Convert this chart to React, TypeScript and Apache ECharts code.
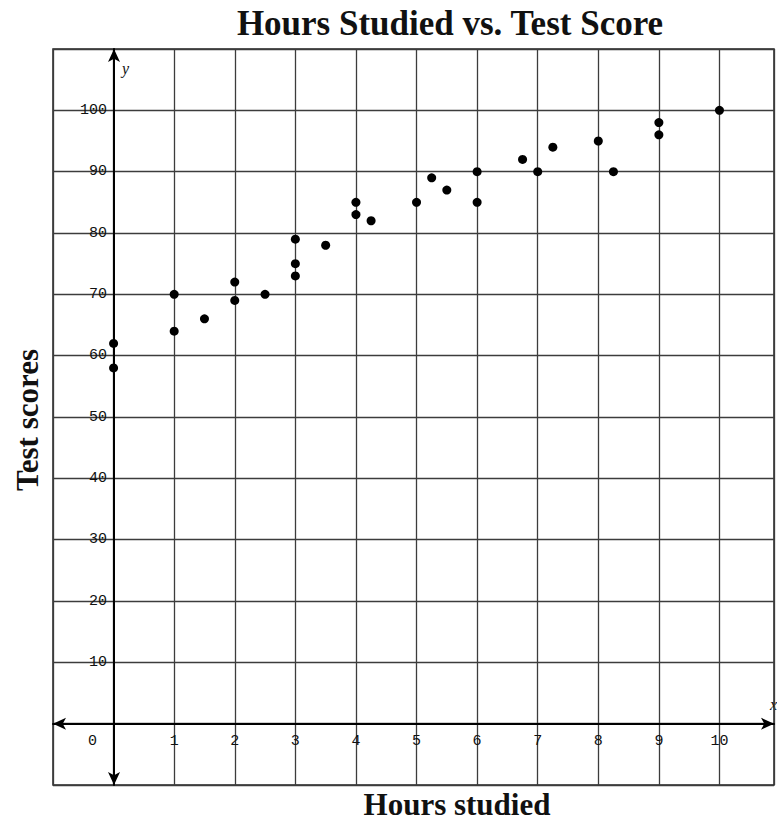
import React, { useEffect, useRef } from "react";
import * as echarts from "echarts";

const hoursStudied = [0, 0, 1, 1, 1.5, 2, 2, 2.5, 3, 3, 3, 3.5, 4, 4, 4.25, 5, 5.25, 5.5, 6, 6, 6.75, 7, 7.25, 8, 8.25, 9, 9, 10];
const testScores = [62, 58, 64, 70, 66, 72, 69, 70, 79, 75, 73, 78, 85, 83, 82, 85, 89, 87, 90, 85, 92, 90, 94, 95, 90, 98, 96, 100];

const chartTitle = "Hours Studied vs. Test Score";
const xName = "Hours studied";
const yName = "Test scores";

const xMin = -1;
const xMax = 10.9;
const yMin = -10;
const yMax = 110;

const W = 777;
const H = 820;
const gridLeft = 53;
const gridRight = -2;
const gridTop = 49;
const gridBottom = 35;

export default function App() {
  const ref = useRef<HTMLDivElement>(null);
  useEffect(() => {
    if (!ref.current) return;
    const chart = echarts.init(ref.current, undefined, { renderer: "svg" });
    const points = hoursStudied.map((h, i) => [h, testScores[i]]);
    const gridW = W - gridLeft - gridRight;
    const gridH = H - gridTop - gridBottom;
    // place the axes where the other axis is zero
    const xAxisOffset = -((0 - yMin) / (yMax - yMin)) * gridH;
    const yAxisOffset = -((0 - xMin) / (xMax - xMin)) * gridW;
    const gridLine = { show: true, lineStyle: { color: "#3c3c3c", width: 1.3 } };
    const option: any = {
      animation: false,
      backgroundColor: "#ffffff",
      grid: {
        left: gridLeft,
        right: gridRight,
        top: gridTop,
        bottom: gridBottom,
        show: true,
        borderColor: "#222",
        borderWidth: 1.5,
        backgroundColor: "transparent",
      },
      xAxis: {
        type: "value",
        min: xMin,
        max: xMax,
        interval: 1,
        offset: xAxisOffset,
        axisLine: {
          show: true,
          onZero: false,
          symbol: ["arrow", "arrow"],
          symbolSize: [9, 13],
          lineStyle: { color: "#000", width: 2 },
        },
        axisTick: { show: false },
        splitLine: gridLine,
        axisLabel: {
          margin: 10,
          fontFamily: "Liberation Mono",
          fontSize: 15,
          color: "#111",
          formatter: (v: number) => {
            if (v === 0) return "{z|0}";
            if (v >= 1 && v <= 10 && Number.isInteger(v)) return String(v);
            return "";
          },
          rich: {
            z: { fontFamily: "Liberation Mono", fontSize: 15, color: "#111", padding: [0, 42, 0, 0] },
          },
        },
      },
      yAxis: {
        type: "value",
        min: yMin,
        max: yMax,
        interval: 10,
        offset: yAxisOffset,
        axisLine: {
          show: true,
          onZero: false,
          symbol: ["arrow", "arrow"],
          symbolSize: [9, 13],
          lineStyle: { color: "#000", width: 2 },
        },
        axisTick: { show: false },
        splitLine: gridLine,
        axisLabel: {
          margin: 7,
          fontFamily: "Liberation Mono",
          fontSize: 15,
          color: "#111",
          formatter: (v: number) => (v >= 10 && v <= 100 ? String(v) : ""),
        },
      },
      series: [
        {
          type: "scatter",
          data: points,
          symbol: "circle",
          symbolSize: 9,
          itemStyle: { color: "#000", opacity: 1 },
          z: 5,
        },
      ],
      graphic: [
        {
          type: "text",
          x: 450,
          y: 23,
          style: {
            text: chartTitle,
            font: "bold 35px 'Liberation Serif'",
            fill: "#111",
            textAlign: "center",
            textVerticalAlign: "middle",
          },
        },
        {
          type: "text",
          x: 457,
          y: 804,
          style: {
            text: xName,
            font: "bold 31px 'Liberation Serif'",
            fill: "#111",
            textAlign: "center",
            textVerticalAlign: "middle",
          },
        },
        {
          type: "text",
          x: 27,
          y: 420,
          rotation: Math.PI / 2,
          style: {
            text: yName,
            font: "bold 31px 'Liberation Serif'",
            fill: "#111",
            textAlign: "center",
            textVerticalAlign: "middle",
          },
        },
        {
          type: "text",
          x: 122,
          y: 68,
          style: {
            text: "y",
            font: "italic 16px 'Liberation Serif'",
            fill: "#111",
            textAlign: "left",
            textVerticalAlign: "middle",
          },
        },
        {
          type: "text",
          x: 770,
          y: 704,
          style: {
            text: "x",
            font: "italic 16px 'Liberation Serif'",
            fill: "#111",
            textAlign: "left",
            textVerticalAlign: "middle",
          },
        },
      ],
    };
    chart.setOption(option);
    return () => chart.dispose();
  }, []);
  return (
    <div
      ref={ref}
      style={{ position: "fixed", left: 0, top: 0, width: W, height: H, background: "#fff" }}
    />
  );
}
